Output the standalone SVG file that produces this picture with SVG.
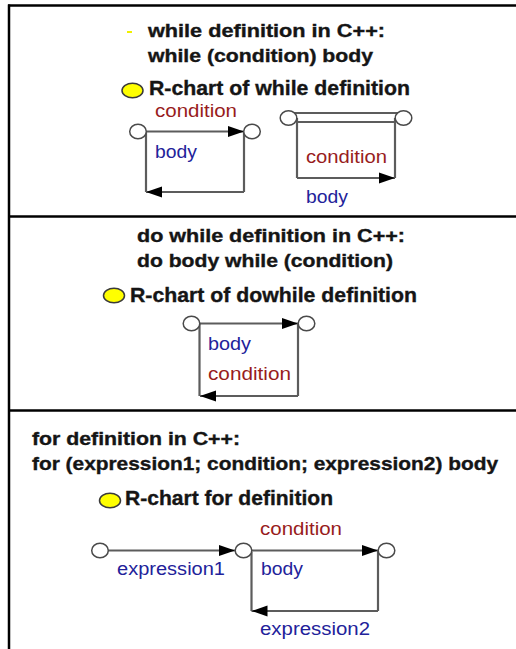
<svg xmlns="http://www.w3.org/2000/svg" width="516" height="649" viewBox="0 0 516 649">
<style>
.frame{stroke:#000;stroke-width:2.5;fill:none}
.hd{font-family:"Liberation Sans",Arial,sans-serif;font-weight:bold;font-size:17.8px;fill:#151515;stroke:#151515;stroke-width:0.35}
.rc{font-family:"Liberation Sans",Arial,sans-serif;font-weight:bold;font-size:19.5px;fill:#151515;stroke:#151515;stroke-width:0.35}
.lb{font-family:"Liberation Sans",Arial,sans-serif;font-size:18px}
.red{fill:#981c1c}
.blue{fill:#22229a}
.node{fill:#fff;stroke:#4a4a4a;stroke-width:1.5}
.bullet{fill:#ffff00;stroke:#3a3a3a;stroke-width:1.5}
.c{stroke:#5c5c5c;stroke-width:2.2;fill:none}
.a{marker-end:url(#arr)}
</style>
<defs>
<marker id="arr" markerUnits="userSpaceOnUse" markerWidth="17" markerHeight="12" refX="16" refY="6" orient="auto">
<path d="M0,0.5 L16,6 L0,11.5 Z" fill="#000"/>
</marker>
</defs>
<rect width="516" height="649" fill="#fff"/>
<g id="frame">
<line class="frame" x1="8" y1="5.5" x2="516" y2="5.5"/>
<line class="frame" x1="9" y1="4.5" x2="9" y2="649"/>
<line class="frame" x1="9" y1="216.5" x2="516" y2="216.5"/>
<line class="frame" x1="9" y1="410.5" x2="516" y2="410.5"/>
</g>
<!-- section 1 -->
<g id="title1">
<rect x="127" y="31" width="5" height="2" fill="#f0f000"/>
<text class="hd" x="148" y="37" textLength="237" lengthAdjust="spacingAndGlyphs">while definition in C++:</text>
<text class="hd" x="148" y="62" textLength="225" lengthAdjust="spacingAndGlyphs">while (condition) body</text>
<ellipse class="bullet" cx="132.5" cy="90.5" rx="10.5" ry="7.3"/>
<text class="rc" x="149" y="95" textLength="261" lengthAdjust="spacingAndGlyphs">R-chart of while definition</text>
</g>
<g id="connectors">
<!-- chart 1 left -->
<line class="c a" x1="146" y1="131.5" x2="244" y2="131.5"/>
<line class="c" x1="244" y1="131.5" x2="244" y2="192"/>
<line class="c a" x1="244" y1="192" x2="146" y2="192"/>
<line class="c" x1="146" y1="131.5" x2="146" y2="192"/>
<!-- chart 1 right -->
<line class="c" x1="288" y1="113" x2="404" y2="113"/>
<line class="c" x1="296" y1="122" x2="396" y2="122"/>
<line class="c" x1="297" y1="118" x2="297" y2="178"/>
<line class="c a" x1="297" y1="178" x2="395" y2="178"/>
<line class="c" x1="395" y1="118" x2="395" y2="178"/>
<!-- chart 2 -->
<line class="c a" x1="200" y1="323.5" x2="298" y2="323.5"/>
<line class="c" x1="298" y1="323.5" x2="298" y2="396"/>
<line class="c a" x1="298" y1="396" x2="200" y2="396"/>
<line class="c" x1="199.5" y1="323.5" x2="199.5" y2="396"/>
<!-- chart 3 -->
<line class="c a" x1="108" y1="550.5" x2="235" y2="550.5"/>
<line class="c a" x1="252" y1="550.5" x2="378" y2="550.5"/>
<line class="c" x1="378" y1="550.5" x2="378" y2="611"/>
<line class="c a" x1="378" y1="611" x2="251.5" y2="611"/>
<line class="c" x1="251.5" y1="552" x2="251.5" y2="611"/>
</g>
<g id="chart1a">
<ellipse id="n1a" class="node" cx="138" cy="131.5" rx="8.3" ry="7.3"/>
<ellipse id="n1b" class="node" cx="252" cy="131.5" rx="8.3" ry="7.3"/>
<text class="lb red" x="155" y="117" textLength="82" lengthAdjust="spacingAndGlyphs">condition</text>
<text class="lb blue" x="155" y="158" textLength="42" lengthAdjust="spacingAndGlyphs">body</text>
</g>
<g id="chart1b">
<ellipse id="n1c" class="node" cx="288.5" cy="118" rx="8.3" ry="7.3"/>
<ellipse id="n1d" class="node" cx="403.5" cy="118" rx="8.3" ry="7.3"/>
<text class="lb red" x="306" y="163" textLength="81" lengthAdjust="spacingAndGlyphs">condition</text>
<text class="lb blue" x="306" y="203" textLength="42" lengthAdjust="spacingAndGlyphs">body</text>
</g>
<!-- section 2 -->
<g id="title2">
<text class="hd" x="137" y="242" textLength="268" lengthAdjust="spacingAndGlyphs">do while definition in C++:</text>
<text class="hd" x="137" y="267" textLength="256" lengthAdjust="spacingAndGlyphs">do body while (condition)</text>
<ellipse class="bullet" cx="114" cy="295.5" rx="10.5" ry="7.3"/>
<text class="rc" x="130" y="301.5" textLength="287" lengthAdjust="spacingAndGlyphs">R-chart of dowhile definition</text>
</g>
<g id="chart2">
<ellipse id="n2a" class="node" cx="191.5" cy="323.5" rx="8.3" ry="7.3"/>
<ellipse id="n2b" class="node" cx="306.5" cy="323.5" rx="8.3" ry="7.3"/>
<text class="lb blue" x="208" y="350" textLength="43" lengthAdjust="spacingAndGlyphs">body</text>
<text class="lb red" x="208" y="380" textLength="83" lengthAdjust="spacingAndGlyphs">condition</text>
</g>
<!-- section 3 -->
<g id="title3">
<text class="hd" x="32" y="445" textLength="208" lengthAdjust="spacingAndGlyphs">for definition in C++:</text>
<text class="hd" x="32" y="470" textLength="466" lengthAdjust="spacingAndGlyphs">for (expression1; condition; expression2) body</text>
<ellipse class="bullet" cx="110" cy="500.5" rx="10.5" ry="7.3"/>
<text class="rc" x="125" y="505" textLength="208" lengthAdjust="spacingAndGlyphs">R-chart for definition</text>
</g>
<g id="chart3">
<ellipse id="n3a" class="node" cx="100" cy="550.5" rx="8.3" ry="7.3"/>
<ellipse id="n3b" class="node" cx="243.5" cy="550.5" rx="8.3" ry="7.3"/>
<ellipse id="n3c" class="node" cx="386.5" cy="550.5" rx="8.3" ry="7.3"/>
<text class="lb red" x="260" y="535" textLength="82" lengthAdjust="spacingAndGlyphs">condition</text>
<text class="lb blue" x="117" y="575" textLength="108" lengthAdjust="spacingAndGlyphs">expression1</text>
<text class="lb blue" x="261" y="575" textLength="42" lengthAdjust="spacingAndGlyphs">body</text>
<text class="lb blue" x="260" y="635" textLength="110" lengthAdjust="spacingAndGlyphs">expression2</text>
</g>
</svg>
